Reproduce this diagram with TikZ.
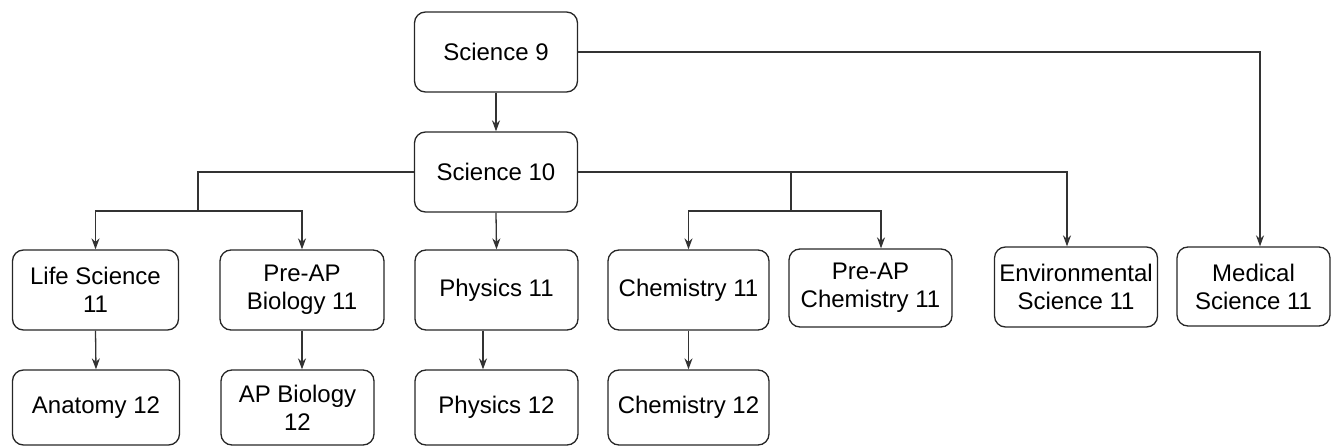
\documentclass[tikz,border=0pt]{standalone}
\usepackage{fontspec}
\setmainfont{Liberation Sans}
\usetikzlibrary{arrows.meta}
\begin{document}
\begin{tikzpicture}[x=1pt,y=-1pt,
  box/.style={draw=black!85, line width=1.3pt, rounded corners=11pt, align=center,
    font=\fontsize{24}{28}\selectfont, inner sep=0pt, minimum width=163pt, minimum height=80pt},
  conn/.style={draw=black!80, line width=1.3pt},
  arr/.style={conn, -{Stealth[length=11pt,width=8pt]}}]
\useasboundingbox (0,0) rectangle (1333,446);
\node[box] (s9) at (496,52) {Science 9};
\node[box] (s10) at (496,172) {Science 10};
\node[box, minimum width=166pt] (life) at (95.5,290) {Life Science\\11};
\node[box, minimum width=164pt] (prebio) at (302,290) {Pre-AP\\Biology 11};
\node[box] (phys11) at (496.5,290) {Physics 11};
\node[box, minimum width=161pt] (chem11) at (688.5,290) {Chemistry 11};
\node[box, minimum height=78pt] (prechem) at (870.5,288) {Pre-AP\\Chemistry 11};
\node[box] (env) at (1076,287) {Environmental\\Science 11};
\node[box, minimum width=153pt, minimum height=79pt] (med) at (1253.5,286.5) {Medical\\Science 11};
\node[box, minimum width=167pt, minimum height=75pt] (anat) at (96,407.5) {Anatomy 12};
\node[box, minimum width=153pt, minimum height=75pt] (apbio) at (297.5,407.5) {AP Biology\\12};
\node[box, minimum height=75pt] (phys12) at (496.5,407.5) {Physics 12};
\node[box, minimum width=161pt, minimum height=75pt] (chem12) at (688.5,407.5) {Chemistry 12};
% junctions
\coordinate (jl) at (198,172);
\coordinate (jlb) at (198,211);
\coordinate (jr) at (791,172);
\coordinate (jrb) at (791,211);
% connectors
\draw[arr] (s9.south) -- (s10.north);
\draw[arr] (s9.east) -| ([xshift=6.5pt]med.north);
\draw[conn] (s10.west) -- (jl) -- (jlb);
\draw[arr] (jlb) -| (life.north);
\draw[arr] (jlb) -| (prebio.north);
\draw[arr] (s10.south) -- (phys11.north);
\draw[arr] (s10.east) -| ([xshift=-9pt]env.north);
\draw[conn] (jr) -- (jrb);
\draw[arr] (jrb) -| (chem11.north);
\draw[arr] (jrb) -| ([xshift=10.5pt]prechem.north);
\draw[arr] (life.south) -- (anat.north);
\draw[arr] (prebio.south) -- (prebio.south |- apbio.north);
\draw[arr] ([xshift=-13.5pt]phys11.south) -- ([xshift=-13.5pt]phys11.south |- phys12.north);
\draw[arr] (chem11.south) -- (chem12.north);
\end{tikzpicture}
\end{document}
